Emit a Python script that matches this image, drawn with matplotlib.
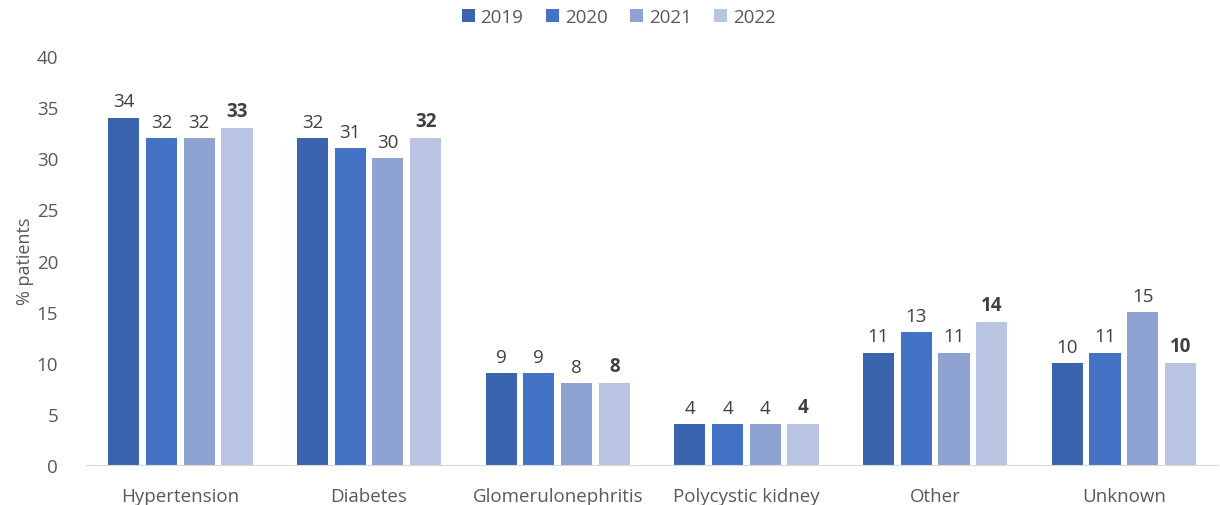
import matplotlib.pyplot as plt
import numpy as np

plt.rcParams['font.family'] = ['Open Sans', 'DejaVu Sans']

categories = ["Hypertension", "Diabetes", "Glomerulonephritis", "Polycystic kidney", "Other", "Unknown"]
years = ["2019", "2020", "2021", "2022"]
values = {
    "2019": [34, 32, 9, 4, 11, 10],
    "2020": [32, 31, 9, 4, 13, 11],
    "2021": [32, 30, 8, 4, 11, 15],
    "2022": [33, 32, 8, 4, 14, 10],
}
colors = ["#3A64AD", "#4472C4", "#8FA3D3", "#B8C4E2"]

fig = plt.figure(figsize=(12.2, 5.06), dpi=100)
ax = fig.add_axes([0.0705, 0.079, 0.928, 0.808])

x = np.arange(len(categories))
step = 0.2
width = 0.165
for i, yr in enumerate(years):
    pos = x + (i - 1.5) * step
    bars = ax.bar(pos, values[yr], width, color=colors[i], label=yr)
    bold = yr == "2022"
    for b, v in zip(bars, values[yr]):
        ax.text(b.get_x() + b.get_width() / 2, v + 0.7, str(v), ha="center", va="bottom",
                fontsize=13.5, color="#404040", fontweight="bold" if bold else "normal")

ax.set_xlim(-0.5, len(categories) - 0.5)
ax.set_ylim(0, 40)
ax.set_yticks(range(0, 41, 5))
ax.set_xticks(x)
ax.set_xticklabels(categories)
ax.tick_params(axis="both", length=0, labelsize=13.5, colors="#595959")
ax.tick_params(axis="x", pad=16)
ax.tick_params(axis="y", pad=20)
for s in ["top", "right", "left"]:
    ax.spines[s].set_visible(False)
ax.spines["bottom"].set_color("#D9D9D9")
ax.set_ylabel("% patients", fontsize=13, color="#595959", labelpad=2)

fig.legend(loc="upper center", bbox_to_anchor=(0.507, 1.015), ncol=4, frameon=False,
           fontsize=13.5, handlelength=0.7, handleheight=0.7, handletextpad=0.3,
           columnspacing=1.2, labelcolor="#595959")

fig.savefig("out.png", dpi=100)
